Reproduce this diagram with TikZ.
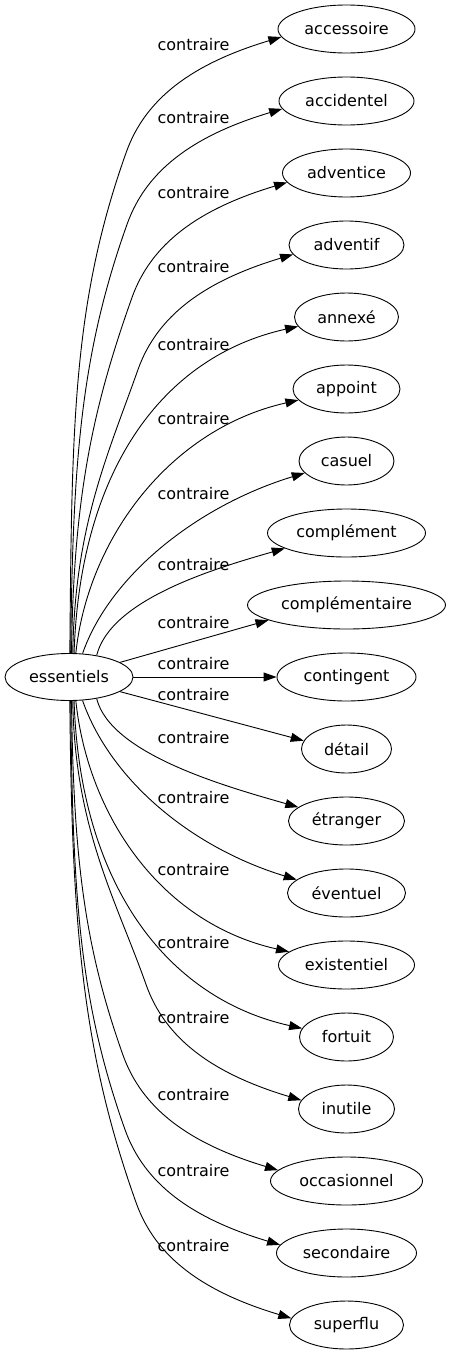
\documentclass[tikz,border=0pt]{standalone}
\usepackage{fontspec}
\setmainfont{DejaVu Sans}
\usetikzlibrary{shapes.geometric,arrows.meta,calc}
\begin{document}
\begin{tikzpicture}[x=1pt,y=-1pt,
  every node/.style={font=\fontsize{16}{19}\selectfont},
  word/.style={ellipse,draw,line width=0.9pt,inner sep=0pt,minimum height=48pt},
  lab/.style={inner sep=0pt},
  edge/.style={draw,line width=0.9pt,-{Triangle[length=13pt,width=9pt]}}]
\useasboundingbox (0,0) rectangle (450,1355);
% nodes
\node[word,minimum width=128pt,minimum height=47pt] (e) at (69,677) {essentiels};
\node[word,minimum width=137pt] (t0) at (346.5,29) {accessoire};
\node[word,minimum width=135pt] (t1) at (346.5,101) {accidentel};
\node[word,minimum width=128pt] (t2) at (346.5,173) {adventice};
\node[word,minimum width=115pt] (t3) at (346.5,245) {adventif};
\node[word,minimum width=104pt] (t4) at (346.5,317) {annexé};
\node[word,minimum width=107pt] (t5) at (346.5,389) {appoint};
\node[word,minimum width=95pt] (t6) at (346.5,461) {casuel};
\node[word,minimum width=158pt] (t7) at (346.5,533) {complément};
\node[word,minimum width=198pt] (t8) at (346.5,605) {complémentaire};
\node[word,minimum width=139pt] (t9) at (346.5,677) {contingent};
\node[word,minimum width=90pt] (t10) at (346.5,749) {détail};
\node[word,minimum width=116pt] (t11) at (346.5,821) {étranger};
\node[word,minimum width=118pt] (t12) at (346.5,893) {éventuel};
\node[word,minimum width=136pt] (t13) at (346.5,965) {existentiel};
\node[word,minimum width=94pt] (t14) at (346.5,1037) {fortuit};
\node[word,minimum width=96pt] (t15) at (346.5,1109) {inutile};
\node[word,minimum width=152pt] (t16) at (346.5,1181) {occasionnel};
\node[word,minimum width=140pt] (t17) at (346.5,1253) {secondaire};
\node[word,minimum width=114pt] (t18) at (346.5,1325) {superflu};
% labels
\node[lab] (l0) at (193.5,45) {contraire};
\node[lab] (l1) at (193.5,118) {contraire};
\node[lab] (l2) at (193.5,193) {contraire};
\node[lab] (l3) at (193.5,267) {contraire};
\node[lab] (l4) at (193.5,345) {contraire};
\node[lab] (l5) at (193.5,419) {contraire};
\node[lab] (l6) at (193.5,494) {contraire};
\node[lab] (l7) at (193.5,565) {contraire};
\node[lab] (l8) at (193.5,623) {contraire};
\node[lab] (l9) at (193.5,664) {contraire};
\node[lab] (l10) at (193.5,695) {contraire};
\node[lab] (l11) at (193.5,738) {contraire};
\node[lab] (l12) at (193.5,798) {contraire};
\node[lab] (l13) at (193.5,870) {contraire};
\node[lab] (l14) at (193.5,943) {contraire};
\node[lab] (l15) at (193.5,1018) {contraire};
\node[lab] (l16) at (193.5,1095) {contraire};
\node[lab] (l17) at (193.5,1171) {contraire};
\node[lab] (l18) at (193.5,1246) {contraire};
% upper edges
\draw[edge] (e.88) .. controls +(2,-226) and +(-54,151) .. ($(t0.187)+(-155,115)$) .. controls +(19,-53) and +(-90,27) .. (t0.187);
\draw[edge] (e.86) .. controls +(2,-194) and +(-46,129) .. ($(t1.187)+(-155,115)$) .. controls +(19,-53) and +(-90,27) .. (t1.187);
\draw[edge] (e.84) .. controls +(2,-160) and +(-38,107) .. ($(t2.189)+(-155,115)$) .. controls +(19,-53) and +(-90,27) .. (t2.189);
\draw[edge] (e.81) .. controls +(2,-128) and +(-30,85) .. ($(t3.190)+(-155,115)$) .. controls +(19,-53) and +(-90,27) .. (t3.190);
\draw[edge] (e.78) .. controls +(6,-184) and +(-135,30) .. (t4.191);
\draw[edge] (e.74) .. controls +(12,-114) and +(-129,29) .. (t5.193);
\draw[edge] (e.60) .. controls +(28,-80) and +(-105,32) .. (t6.196);
\draw[edge] (e.38) .. controls +(14,-56) and +(-70,20) .. (t7.194);
\draw[edge] (e.16) -- (t8.191);
\draw[edge] (e.east) -- (t9.west);
% lower edges
\draw[edge] (e.344) -- (t10.169);
\draw[edge] (e.322) .. controls +(14,56) and +(-70,-20) .. (t11.164);
\draw[edge] (e.300) .. controls +(28,80) and +(-105,-32) .. (t12.165);
\draw[edge] (e.286) .. controls +(12,114) and +(-129,-29) .. (t13.167);
\draw[edge] (e.282) .. controls +(6,184) and +(-135,-30) .. (t14.169);
\draw[edge] (e.279) .. controls +(2,128) and +(-30,-85) .. ($(t15.169)+(-155,-115)$) .. controls +(19,53) and +(-90,-27) .. (t15.169);
\draw[edge] (e.276) .. controls +(2,160) and +(-38,-107) .. ($(t16.171)+(-155,-115)$) .. controls +(19,53) and +(-90,-27) .. (t16.171);
\draw[edge] (e.274) .. controls +(2,194) and +(-46,-129) .. ($(t17.173)+(-155,-115)$) .. controls +(19,53) and +(-90,-27) .. (t17.173);
\draw[edge] (e.272) .. controls +(2,226) and +(-54,-151) .. ($(t18.173)+(-155,-115)$) .. controls +(19,53) and +(-90,-27) .. (t18.173);
\end{tikzpicture}
\end{document}
